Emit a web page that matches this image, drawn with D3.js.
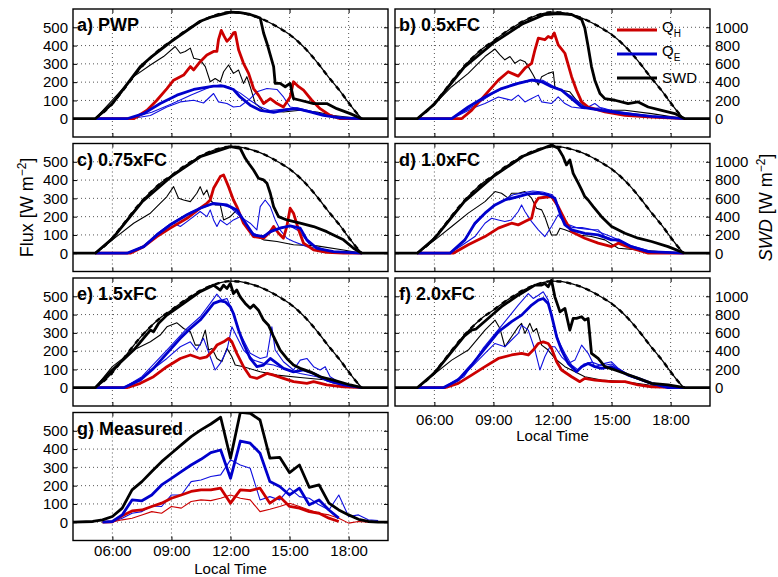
<html>
<head>
<style>
body { margin:0; background:#fff; }
text { font-family:"Liberation Sans", Arial, sans-serif; }
</style>
</head>
<body>
<svg id="plot"></svg>
<script src="https://d3js.org/d3.v7.min.js"></script>
<script>

// ---------- data (hours, W m-2) ----------
var hourTicks = [6, 9, 12, 15, 18];
var hourLabels = ["06:00", "09:00", "12:00", "15:00", "18:00"];
var fluxTicks = [0, 100, 200, 300, 400, 500];
var swdTicks = [0, 200, 400, 600, 800, 1000];
var panelLabels = ["a) PWP", "b) 0.5xFC", "c) 0.75xFC", "d) 1.0xFC", "e) 1.5xFC", "f) 2.0xFC", "g) Measured"];

// clear sky SWD (right axis)
var clearSky = [[5.13,0],[5.5,60],[6,166],[6.5,300],[7,440],[7.5,570],[8,680],[8.5,775],[9,850],[9.5,930],[10,1000],[10.5,1065],[11,1115],[11.5,1150],[12,1166],[12.5,1160],[13,1135],[13.5,1100],[14,1050],[14.5,990],[15,920],[15.5,830],[16,720],[16.5,590],[17,450],[17.5,320],[18,175],[18.3,90],[18.67,0]];

// modelled SWD, right axis
var swdA = [[4,0],[5.13,0],[6,166],[7.42,570],[8,680],[9,846],[10.46,1066],[11,1110],[12,1166],[12.5,1160],[13,1140],[13.51,1102],[13.68,938],[13.85,826],[14.19,570],[14.27,386],[14.52,386],[14.78,350],[15.03,386],[15.2,220],[15.54,202],[16.22,166],[16.89,166],[17.4,110],[18.08,56],[18.67,0],[20,0]];
var swdB = [[4,0],[5.13,0],[6,160],[7.5,560],[9,830],[10.5,1040],[11.6,1140],[12.3,1150],[12.97,1140],[13.48,1084],[13.64,992],[13.81,790],[13.98,570],[14.15,422],[14.41,276],[14.66,220],[15.17,202],[15.84,166],[16.35,184],[16.86,128],[17.54,92],[18.21,56],[18.72,0],[20,0]];
var swdC = [[4,0],[5.13,0],[6,160],[7.5,560],[9,840],[10.5,1060],[12,1166],[12.49,1148],[12.75,1038],[12.92,984],[13.17,910],[13.42,820],[13.68,802],[13.85,766],[14.02,656],[14.19,510],[14.44,400],[14.86,364],[15.54,328],[16.22,292],[16.89,236],[17.23,200],[17.74,146],[18.25,54],[18.67,0],[20,0]];
var swdD = [[4,0],[5.13,0],[6,160],[7.5,560],[9,840],[10.5,1060],[11.95,1184],[12.29,1148],[12.54,1056],[12.71,966],[12.88,1020],[13.05,874],[13.31,766],[13.48,692],[13.64,620],[13.81,582],[14.07,510],[14.49,400],[15,292],[15.68,218],[16.35,164],[17.03,128],[17.87,72],[18.72,0],[20,0]];
var swdE = [[4,0],[5.13,0],[6,194],[7.08,412],[7.93,630],[8.09,612],[8.35,704],[8.77,794],[9.62,922],[10.46,1050],[11.14,1122],[11.48,1068],[11.65,1122],[11.82,1086],[11.99,1140],[12.15,1030],[12.32,1068],[12.49,994],[12.75,922],[13,868],[13.17,904],[13.42,848],[13.68,740],[13.93,684],[14.19,558],[14.52,412],[14.86,320],[15.2,248],[15.54,212],[16.05,174],[16.55,120],[17.23,84],[18.08,30],[18.67,0],[20,0]];
var swdF = [[4,0],[5.13,0],[6,160],[7.5,560],[7.89,630],[8.1,640],[9.41,886],[10.26,1012],[11.11,1122],[11.45,1122],[11.61,1140],[11.78,1104],[11.95,1176],[12.12,994],[12.38,830],[12.63,868],[12.88,630],[13.05,758],[13.22,758],[13.48,776],[13.64,740],[13.81,758],[13.9,558],[13.98,376],[14.32,320],[14.66,230],[15.17,194],[15.68,156],[16.35,102],[17.03,48],[17.87,30],[18.72,0],[20,0]];

// thin black curve, left axis
var thinA = [[5.13,0],[6,101],[7.08,230],[7.93,294],[8.6,340],[9.19,395],[9.45,358],[9.7,368],[9.96,386],[10.13,331],[10.46,322],[10.72,285],[10.97,202],[11.22,220],[11.48,202],[11.65,257],[11.9,294],[12.15,248],[12.41,266],[12.66,193],[12.83,230],[13,175],[13.26,83],[13.68,46],[14.69,37],[15.54,46],[16.39,37],[17.23,18],[18.67,0]];
var thinB = [[5.13,0],[6.03,83],[6.88,175],[7.72,248],[8.57,340],[9.08,381],[9.33,349],[9.58,322],[9.84,340],[10.09,303],[10.35,322],[10.6,312],[10.77,285],[11.02,239],[11.28,184],[11.45,230],[11.78,248],[12.04,257],[12.12,175],[12.46,156],[12.88,147],[13.22,101],[13.64,64],[14.49,46],[15.68,46],[17.03,28],[18.72,0]];
var thinC = [[5.13,0],[6,73],[7.08,164],[7.93,219],[8.77,310],[9.11,364],[9.36,301],[9.62,291],[9.96,282],[10.29,328],[10.46,364],[10.63,319],[10.8,346],[10.97,291],[11.22,264],[11.48,264],[11.65,182],[11.99,200],[12.32,237],[12.66,182],[12.83,155],[13.17,100],[13.68,73],[14.36,64],[15.2,46],[16.39,40],[17.74,18],[18.67,0]];
var thinD = [[5.13,0],[6.03,73],[6.88,146],[7.72,219],[8.57,282],[9.08,337],[9.41,328],[9.75,301],[9.92,328],[10.26,328],[10.6,337],[10.94,301],[11.19,246],[11.45,237],[11.61,200],[11.78,146],[11.95,100],[12.21,100],[12.38,137],[12.63,128],[13.31,100],[13.98,91],[14.66,73],[15.34,27],[16.35,18],[17.37,9],[18.72,0]];
var thinE = [[5.13,0],[6,115],[7.08,206],[7.93,251],[8.43,288],[8.77,333],[9.28,355],[9.62,324],[9.96,306],[10.21,233],[10.46,233],[10.72,315],[10.89,206],[11.06,215],[11.31,160],[11.56,142],[11.82,215],[12.07,169],[12.24,124],[12.66,115],[13.51,87],[14.36,69],[15.54,56],[16.89,42],[18.67,0]];
var thinF = [[5.13,0],[6.03,78],[6.88,151],[7.72,206],[8.57,315],[9.08,370],[9.33,324],[9.58,224],[9.92,279],[10.26,333],[10.43,352],[10.6,297],[10.85,352],[11.02,306],[11.19,324],[11.45,233],[11.78,206],[12.12,160],[12.63,115],[13.14,87],[13.64,60],[14.49,42],[15.68,33],[16.9,15],[18.72,0]];

// Q_H, left axis
var qhA = [[5.13,0],[7.08,0],[7.76,46],[8.26,101],[8.77,165],[9.11,211],[9.62,239],[9.96,285],[10.13,267],[10.46,312],[10.8,349],[11.14,368],[11.31,368],[11.39,432],[11.53,483],[11.68,450],[11.82,423],[11.99,441],[12.15,469],[12.24,472],[12.41,377],[12.66,303],[12.92,248],[13.17,165],[13.42,129],[13.68,83],[14.02,110],[14.36,83],[14.69,64],[15.03,119],[15.2,202],[15.46,175],[15.71,156],[16.13,101],[16.55,55],[17.06,18],[17.57,0],[18.67,0]];
var qhB = [[5.13,0],[7.38,0],[7.89,46],[8.57,129],[9.25,211],[9.75,257],[10.26,233],[10.6,276],[10.94,303],[11.11,377],[11.28,441],[11.61,432],[11.78,450],[11.95,441],[12.09,469],[12.29,404],[12.63,358],[12.97,230],[13.22,156],[13.48,92],[13.81,64],[14.66,37],[15.68,18],[17.03,9],[18.72,0]];
var qhC = [[5.13,0],[6.91,0],[7.59,36],[8.26,91],[8.94,137],[9.79,191],[10.46,246],[10.8,273],[10.97,291],[11.14,355],[11.48,419],[11.65,428],[11.9,364],[12.15,291],[12.32,255],[12.66,164],[13.17,91],[13.68,82],[14.02,118],[14.19,146],[14.44,109],[14.69,82],[14.86,146],[15.03,246],[15.2,219],[15.46,128],[15.71,55],[16.22,18],[16.89,5],[17.74,0],[18.67,0]];
var qhD = [[5.13,0],[6.96,0],[7.72,46],[8.57,91],[9.25,137],[9.92,164],[10.26,155],[10.6,173],[10.94,191],[11.11,273],[11.28,301],[11.61,306],[11.95,310],[12.29,255],[12.63,182],[12.97,118],[13.64,82],[14.32,55],[15,36],[15.34,55],[16.01,27],[16.86,0],[18.67,0]];
var qhE = [[5.13,0],[6.74,0],[7.42,24],[8.09,60],[8.77,115],[9.45,160],[9.96,179],[10.46,160],[10.8,169],[11.14,206],[11.31,233],[11.65,251],[11.9,270],[12.07,251],[12.32,188],[12.66,115],[13,60],[13.34,51],[13.85,78],[14.19,69],[14.69,51],[15.2,33],[15.88,24],[16.22,33],[16.89,15],[17.74,5],[18.67,0]];
var qhF = [[5.13,0],[6.54,0],[7.21,24],[7.89,69],[8.57,115],[9.25,160],[9.92,179],[10.43,188],[10.77,179],[11.02,206],[11.28,242],[11.53,251],[11.78,242],[11.95,215],[12.21,142],[12.46,97],[12.97,60],[13.39,33],[13.64,51],[14.15,42],[14.99,33],[15.68,33],[16.35,15],[17.03,5],[18.72,0]];

// Q_E, left axis (thick run + two thin runs)
var qeA = [[5.13,0],[6.74,0],[7.59,28],[8.43,83],[9.28,129],[10.13,160],[11.14,178],[11.65,178],[12.15,160],[12.49,119],[13,74],[13.51,46],[14.19,35],[14.86,50],[15.37,55],[16.05,37],[16.72,18],[17.57,5],[18.67,0]];
var qeB = [[5.13,0],[6.88,0],[7.72,64],[8.57,119],[9.41,165],[10.26,193],[10.94,211],[11.45,202],[11.95,175],[12.46,156],[12.97,110],[13.48,64],[14.49,46],[15.68,28],[17.03,13],[18.72,0]];
var qeC = [[5.13,0],[6.74,0],[7.59,36],[8.26,100],[8.94,155],[9.79,210],[10.46,246],[11.14,273],[11.82,264],[12.32,237],[12.66,182],[13.17,100],[13.68,91],[14.02,118],[14.52,137],[15.03,149],[15.54,137],[15.88,73],[16.39,27],[17.23,9],[18.67,0]];
var qeD = [[5.13,0],[6.79,0],[7.55,73],[8.06,164],[8.57,219],[9.08,264],[9.58,291],[10.26,310],[10.77,324],[11.28,328],[11.78,319],[12.12,301],[12.38,219],[12.63,155],[12.97,128],[13.64,109],[14.32,100],[15,73],[15.34,73],[16.01,36],[16.86,9],[18.67,0]];
var qeE = [[5.13,0],[6.57,0],[7.42,42],[8.09,106],[8.77,188],[9.45,270],[9.96,324],[10.46,370],[10.8,415],[11.14,461],[11.48,475],[11.73,470],[11.99,443],[12.15,406],[12.41,315],[12.66,242],[13,160],[13.34,115],[13.68,124],[14.02,160],[14.36,133],[14.69,106],[15.2,87],[15.71,97],[16.22,78],[16.89,42],[17.74,15],[18.67,0]];
var qeF = [[5.13,0],[6.45,0],[7.21,42],[7.89,124],[8.57,215],[9.25,306],[9.92,361],[10.43,397],[10.94,452],[11.28,479],[11.53,488],[11.78,461],[11.95,397],[12.21,279],[12.46,206],[12.8,133],[13.22,87],[13.48,115],[13.81,133],[14.15,115],[14.49,106],[14.99,115],[15.34,97],[15.84,69],[16.35,51],[17.03,24],[17.87,0],[18.72,0]];

var qeThinA1 = [[5.13,0],[6.74,0],[8,35],[9,80],[10,130],[11,175],[11.5,185],[12,170],[12.5,140],[13,100],[13.5,65],[14,45],[15,55],[16,40],[17,15],[18.5,0]];
var qeThinA2 = [[5.13,0],[6.9,0],[7.93,18],[8.77,64],[9.45,92],[10.13,101],[10.63,86],[11.14,138],[11.39,92],[11.82,83],[12.15,64],[12.49,68],[13,110],[13.34,147],[13.85,165],[14.36,160],[14.69,119],[15.03,64],[15.54,55],[16.5,30],[17.5,8],[18.67,0]];
var qeThinB1 = [[5.13,0],[6.88,0],[8,70],[9,140],[10,190],[11,215],[11.5,210],[12,180],[12.5,150],[13,120],[13.5,75],[14,55],[14.5,60],[15,45],[16,30],[17,15],[18.72,0]];
var qeThinB2 = [[5.13,0],[6.88,0],[8,60],[8.57,83],[9.25,119],[9.58,110],[9.92,101],[10.26,129],[10.6,92],[10.94,110],[11.28,129],[11.45,92],[11.95,83],[12.29,119],[12.63,83],[12.97,64],[13.64,55],[14.15,83],[14.49,55],[15.68,28],[17,10],[18.72,0]];
var qeThinC1 = [[5.13,0],[6.74,0],[7.6,40],[8.3,110],[9,165],[10,225],[11,265],[11.5,265],[12,250],[12.5,200],[13,120],[13.5,90],[14,110],[14.5,140],[15,150],[15.5,120],[16,50],[17,10],[18.67,0]];
var qeThinC2 = [[5.13,0],[6.74,0],[7.6,40],[8.5,120],[9.11,164],[9.45,146],[9.79,173],[10.46,228],[10.8,200],[10.97,237],[11.14,182],[11.31,146],[11.48,182],[11.82,155],[12.15,182],[12.49,200],[13,164],[13.34,128],[13.51,255],[13.76,291],[14.02,255],[14.27,182],[14.52,128],[14.86,82],[15.2,64],[15.88,36],[17.23,9],[18.67,0]];
var qeThinD1 = [[5.13,0],[6.79,0],[7.5,70],[8,150],[8.5,210],[9,260],[9.5,290],[10,320],[10.5,330],[11,340],[11.5,335],[12,320],[12.3,250],[12.6,170],[13,140],[13.5,140],[14,130],[14.5,110],[15,90],[15.5,65],[16,40],[17,10],[18.67,0]];
var qeThinD2 = [[5.13,0],[6.79,0],[7.5,50],[8.06,91],[8.57,164],[8.91,191],[9.25,182],[9.58,173],[9.92,182],[10.26,228],[10.43,264],[10.6,228],[10.94,173],[11.28,128],[11.61,91],[11.95,146],[12.29,210],[12.63,164],[13.31,137],[13.98,128],[14.32,128],[14.66,91],[15.34,64],[16.35,18],[17.5,0],[18.67,0]];
var qeThinE1 = [[5.13,0],[6.57,0],[7.5,60],[8.77,206],[9.79,324],[10.46,388],[10.97,461],[11.31,512],[11.56,479],[11.82,488],[12.15,406],[12.49,297],[13,188],[13.51,160],[13.85,169],[14.1,333],[14.27,206],[14.69,142],[15.2,97],[15.54,151],[15.88,160],[16.22,115],[16.55,97],[16.81,115],[17.06,60],[17.74,15],[18.67,0]];
var qeThinE2 = [[5.13,0],[6.57,0],[7.5,55],[8.77,160],[9.45,224],[9.96,251],[10.29,206],[10.63,270],[10.97,169],[11.22,97],[11.48,133],[11.82,206],[12.07,333],[12.32,279],[12.66,206],[13.17,151],[13.68,133],[14.19,124],[14.86,97],[15.54,78],[16.39,60],[17.23,24],[18.67,0]];
var qeThinF1 = [[5.13,0],[6.45,0],[7.5,60],[8.5,220],[9.5,350],[10.26,452],[10.77,515],[11.02,488],[11.28,506],[11.53,525],[11.78,479],[11.95,388],[12.29,260],[12.63,188],[12.97,124],[13.3,97],[13.6,130],[14,140],[14.5,120],[15,130],[15.5,90],[16,60],[17,20],[18.72,0]];
var qeThinF2 = [[5.13,0],[6.45,0],[7.5,70],[8.57,188],[9.08,242],[9.58,224],[10.26,297],[10.43,342],[10.77,315],[11.11,206],[11.36,97],[11.61,169],[11.87,224],[12.12,224],[12.46,169],[12.8,133],[13.14,151],[13.48,233],[13.81,188],[14.15,115],[14.66,133],[14.99,142],[15.34,106],[16.01,60],[17.03,24],[18.72,0]];

// measured, left axis (half-hourly)
var swdG = [[4,0],[5,4],[5.5,13],[6,31],[6.5,77],[7,177],[7.5,222],[8,277],[8.5,331],[9,377],[9.5,423],[10,468],[10.5,505],[11,537],[11.5,574],[12,350],[12.5,601],[13,596],[13.5,559],[14,350],[14.5,355],[15,271],[15.5,313],[16,191],[16.5,204],[17,104],[17.5,67],[18,40],[18.5,16],[19,4],[19.5,0],[20,0]];
var qeG = [[5.5,0],[6,4],[6.5,40],[7,122],[7.5,117],[8,149],[8.5,204],[9,240],[9.5,277],[10,313],[10.5,344],[11,381],[11.5,395],[12,240],[12.5,444],[13,432],[13.5,377],[14,222],[14.5,195],[15,149],[15.5,186],[16,95],[16.5,122],[17,67],[17.5,22]];
var qeThinG = [[5.5,0],[6,2],[6.5,22],[7,49],[7.5,58],[8,89],[8.5,86],[9,149],[9.5,149],[10,222],[10.5,231],[11,250],[11.5,259],[12,341],[12.5,313],[13,295],[13.5,122],[14,140],[14.5,122],[15,186],[15.5,140],[16,131],[16.5,95],[17,67],[17.5,149],[18,31],[18.5,40],[19,13],[19.5,9]];
var qhG = [[5.5,0],[6,2],[6.5,35],[7,62],[7.5,67],[8,86],[8.5,104],[9,131],[9.5,149],[10,168],[10.5,177],[11,177],[11.5,186],[12,104],[12.5,177],[13,173],[13.5,186],[14,104],[14.5,140],[15,86],[15.5,77],[16,58],[16.5,49],[17,22],[17.5,4]];
var qhThinG = [[5.5,0],[6,1],[6.5,13],[7,22],[7.5,40],[8,58],[8.5,49],[9,86],[9.5,77],[10,113],[10.5,122],[11,118],[11.5,131],[12,149],[12.5,131],[13,122],[13.5,58],[14,71],[14.5,86],[15,104],[15.5,86],[16,67],[16.5,49],[17,40],[17.5,22],[18,-5],[18.5,4],[19,0]];

var legendNames = ["Q", "Q", "SWD"];
var legendSubs = ["H", "E", ""];

// ---------- layout ----------
var screen = {width:778, height:577};
var panelSize = {width:315, height:128};
var colX = [73, 395];
var rowY = [9, 143.5, 278, 412.5];

var red = "#cc0000", blue = "#0000cc", thinBlue = "#1010e0";

var svg = d3.select("#plot")
    .attr("width", screen.width)
    .attr("height", screen.height);

var xScale = d3.scaleLinear().domain([4, 20]).range([0, panelSize.width]);
var yFlux = d3.scaleLinear().domain([-100, 600]).range([panelSize.height, 0]);
var ySwd = d3.scaleLinear().domain([-200, 1200]).range([panelSize.height, 0]);

var fluxLine = d3.line()
    .x(function(d){ return xScale(d[0]); })
    .y(function(d){ return yFlux(d[1]); });
var swdLine = d3.line()
    .x(function(d){ return xScale(d[0]); })
    .y(function(d){ return ySwd(d[1]); });
var skyLine = d3.line()
    .curve(d3.curveMonotoneX)
    .x(function(d){ return xScale(d[0]); })
    .y(function(d){ return ySwd(d[1]); });

var panels = [
    {swd:swdA, thin:thinA, qh:qhA, qe:qeA, qe1:qeThinA1, qe2:qeThinA2},
    {swd:swdB, thin:thinB, qh:qhB, qe:qeB, qe1:qeThinB1, qe2:qeThinB2},
    {swd:swdC, thin:thinC, qh:qhC, qe:qeC, qe1:qeThinC1, qe2:qeThinC2},
    {swd:swdD, thin:thinD, qh:qhD, qe:qeD, qe1:qeThinD1, qe2:qeThinD2},
    {swd:swdE, thin:thinE, qh:qhE, qe:qeE, qe1:qeThinE1, qe2:qeThinE2},
    {swd:swdF, thin:thinF, qh:qhF, qe:qeF, qe1:qeThinF1, qe2:qeThinF2},
    {measured:true}
];

var addPath = function(g, data, lineGen, color, width, dash)
{
    var p = g.append("path")
        .datum(data)
        .attr("d", lineGen)
        .attr("fill", "none")
        .attr("stroke", color)
        .attr("stroke-width", width)
        .attr("stroke-linejoin", "round");
    if (dash) { p.attr("stroke-dasharray", dash); }
    return p;
}

var styleAxis = function(ax)
{
    ax.select(".domain").remove();
    ax.selectAll(".tick line").attr("stroke", "#000").attr("stroke-width", 1);
    ax.selectAll("text")
        .attr("font-family", "Liberation Sans, Arial, sans-serif")
        .attr("font-size", 15)
        .attr("fill", "#000");
}

var drawPanel = function(i)
{
    var d = panels[i];
    var col = i % 2, row = Math.floor(i / 2);
    var W = panelSize.width, H = panelSize.height;

    var g = svg.append("g")
        .attr("transform", "translate(" + colX[col] + "," + rowY[row] + ")");

    g.append("rect").attr("width", W).attr("height", H).attr("fill", "#fff");

    //dotted grid
    var grid = g.append("g").attr("stroke", "#444").attr("stroke-width", 0.9)
        .attr("stroke-dasharray", "1,3");
    grid.selectAll(".gx").data(hourTicks).enter().append("line")
        .attr("x1", function(t){ return xScale(t); })
        .attr("x2", function(t){ return xScale(t); })
        .attr("y1", 0).attr("y2", H);
    grid.selectAll(".gy").data(fluxTicks).enter().append("line")
        .attr("y1", function(v){ return yFlux(v); })
        .attr("y2", function(v){ return yFlux(v); })
        .attr("x1", 0).attr("x2", W);

    g.append("clipPath").attr("id", "clip" + i)
        .append("rect").attr("width", W).attr("height", H);
    var lines = g.append("g").attr("clip-path", "url(#clip" + i + ")");

    if (d.measured)
    {
        addPath(lines, qhThinG, fluxLine, red, 1.1);
        addPath(lines, qeThinG, fluxLine, thinBlue, 1.1);
        addPath(lines, qhG, fluxLine, red, 2.8);
        addPath(lines, qeG, fluxLine, blue, 2.8);
        addPath(lines, swdG, fluxLine, "#000", 2.8);
    }
    else
    {
        addPath(lines, clearSky, skyLine, "#000", 1.3);
        addPath(lines, clearSky, skyLine, "#000", 2.4, "5,5");
        addPath(lines, d.thin, fluxLine, "#000", 1.1);
        addPath(lines, d.qe2, fluxLine, thinBlue, 1.1);
        addPath(lines, d.qe1, fluxLine, thinBlue, 1.1);
        addPath(lines, d.qh, fluxLine, red, 2.8);
        addPath(lines, d.qe, fluxLine, blue, 2.8);
        addPath(lines, d.swd, swdLine, "#000", 2.8);
    }

    //ticks on all four sides, labels where the figure has them
    var left = g.append("g").call(d3.axisLeft(yFlux).tickValues(fluxTicks)
        .tickSize(-4).tickPadding(5).tickFormat(col == 0 ? d3.format("d") : ""));
    styleAxis(left);

    var right = g.append("g").attr("transform", "translate(" + W + ",0)")
        .call(d3.axisRight(ySwd).tickValues(swdTicks)
        .tickSize(-4).tickPadding(5).tickFormat(col == 1 ? d3.format("d") : ""));
    styleAxis(right);

    var showX = (i == 5 || i == 6);
    var bottom = g.append("g").attr("transform", "translate(0," + H + ")")
        .call(d3.axisBottom(xScale).tickValues(hourTicks)
        .tickSize(-4).tickPadding(i == 6 ? 5 : 8)
        .tickFormat(function(t, k){ return showX ? hourLabels[k] : ""; }));
    styleAxis(bottom);

    var top = g.append("g")
        .call(d3.axisTop(xScale).tickValues(hourTicks).tickSize(-4).tickFormat(""));
    styleAxis(top);

    g.append("rect").attr("width", W).attr("height", H)
        .attr("fill", "none").attr("stroke", "#000").attr("stroke-width", 1.4);

    g.append("text")
        .text(panelLabels[i])
        .attr("x", 4).attr("y", 22)
        .attr("font-size", 18).attr("font-weight", "bold");

    if (showX)
    {
        g.append("text").text("Local Time")
            .attr("x", W / 2).attr("y", H + (i == 6 ? 33 : 35))
            .attr("text-anchor", "middle").attr("font-size", 15);
    }

    if (i == 1) { drawLegend(g); }
}

var drawLegend = function(g)
{
    var colors = [red, blue, "#000"];
    var ys = [21, 45, 69];
    var leg = g.selectAll(".leg").data(legendNames).enter().append("g");
    leg.append("line")
        .attr("x1", 222).attr("x2", 262)
        .attr("y1", function(n, k){ return ys[k]; })
        .attr("y2", function(n, k){ return ys[k]; })
        .attr("stroke", function(n, k){ return colors[k]; })
        .attr("stroke-width", 2.8);
    var t = leg.append("text")
        .attr("x", 267)
        .attr("y", function(n, k){ return ys[k] + (k < 2 ? 2 : 5); })
        .attr("font-size", 15);
    t.append("tspan").text(function(n){ return n; });
    t.append("tspan")
        .attr("dy", 5).attr("font-size", 10)
        .text(function(n, k){ return legendSubs[k]; });
}

for (var i = 0; i < panels.length; i++) { drawPanel(i); }

//axis titles
var flux = svg.append("text")
    .attr("transform", "translate(33,207.5) rotate(-90)")
    .attr("text-anchor", "middle")
    .attr("font-size", 18);
flux.append("tspan").text("Flux [W m");
flux.append("tspan").attr("dy", -7).attr("font-size", 12).text("\u22122");
flux.append("tspan").attr("dy", 7).text("]");

var swdTitle = svg.append("text")
    .attr("transform", "translate(772,207.5) rotate(-90)")
    .attr("text-anchor", "middle")
    .attr("font-size", 18);
swdTitle.append("tspan").attr("font-style", "italic").text("SWD");
swdTitle.append("tspan").text(" [W m");
swdTitle.append("tspan").attr("dy", -7).attr("font-size", 12).text("\u22122");
swdTitle.append("tspan").attr("dy", 7).text("]");

</script>
</body>
</html>
